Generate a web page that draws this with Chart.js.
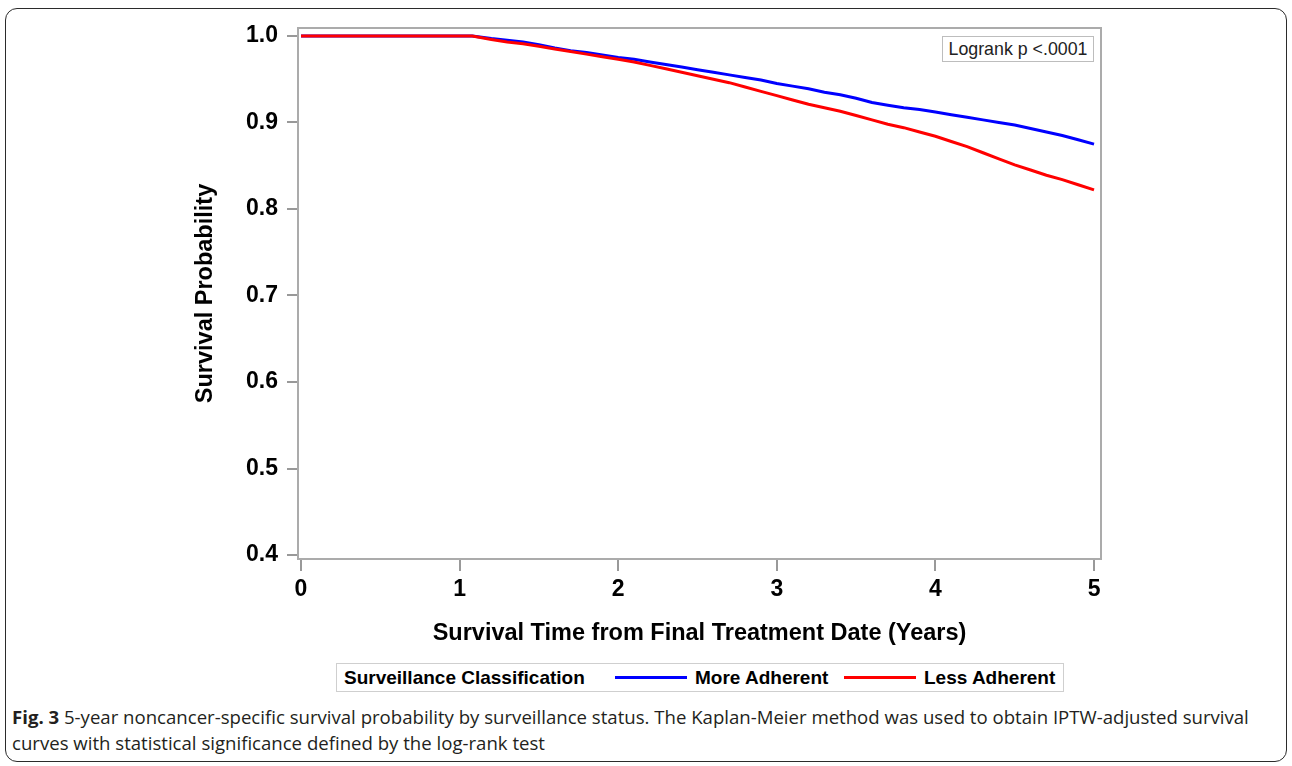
<!DOCTYPE html>
<html><head><meta charset="utf-8">
<script src="https://cdn.jsdelivr.net/npm/chart.js@4.4.1/dist/chart.umd.min.js"></script>
<style>
html,body{margin:0;padding:0;background:#fff;}
body{width:1292px;height:766px;position:relative;overflow:hidden;}
#frame{position:absolute;left:5px;top:8px;width:1282px;height:754px;border:1.5px solid #2b2b2b;border-radius:12px;box-sizing:border-box;}
#chart{position:absolute;left:0;top:0;}
#logrank{position:absolute;left:942px;top:36px;width:152px;height:26px;border:1px solid #bdbdbd;box-sizing:border-box;background:#fff;
  font:17.8px "Liberation Sans",Arial,sans-serif;color:#222;text-align:center;line-height:24px;}
#legend{position:absolute;left:336px;top:663px;width:728px;height:29px;border:1px solid #cfcfcf;box-sizing:border-box;
  font:bold 19px "Liberation Sans",Arial,sans-serif;color:#000;}
#legend span{position:absolute;top:0;line-height:27px;white-space:nowrap;}
#legend i{position:absolute;top:12px;height:3px;width:72px;}
#caption{position:absolute;left:12px;top:704px;font:18.6px "Open Sans",sans-serif;line-height:26px;color:#231f20;white-space:nowrap;}
</style></head>
<body>
<div id="frame"></div>
<canvas id="chart" width="1292" height="660"></canvas>
<div id="logrank">Logrank p &lt;.0001</div>
<div id="legend"></div>
<div id="caption"><b>Fig. 3</b> 5-year noncancer-specific survival probability by surveillance status. The Kaplan-Meier method was used to obtain IPTW-adjusted survival<br>curves with statistical significance defined by the log-rank test</div>
<script>
// ---- data ----
const years = [0, 1.08, 1.2, 1.3, 1.4, 1.5, 1.6, 1.7, 1.8, 1.9, 2.0, 2.1, 2.2, 2.3, 2.4, 2.5, 2.6, 2.7, 2.8, 2.9, 3.0,
  3.1, 3.2, 3.3, 3.4, 3.5, 3.6, 3.7, 3.8, 3.9, 4.0, 4.1, 4.2, 4.3, 4.4, 4.5, 4.6, 4.7, 4.8, 4.9, 5.0];
const moreAdherent = [1.0, 1.0, 0.997, 0.995, 0.993, 0.990, 0.986, 0.983, 0.981, 0.978, 0.975, 0.973, 0.970, 0.967, 0.964,
  0.961, 0.958, 0.955, 0.952, 0.949, 0.945, 0.942, 0.939, 0.935, 0.932, 0.928, 0.923, 0.920, 0.917, 0.915, 0.912,
  0.909, 0.906, 0.903, 0.900, 0.897, 0.893, 0.889, 0.885, 0.880, 0.875];
const lessAdherent = [1.0, 1.0, 0.996, 0.993, 0.991, 0.988, 0.985, 0.982, 0.979, 0.976, 0.973, 0.970, 0.966, 0.962, 0.958,
  0.954, 0.950, 0.946, 0.941, 0.936, 0.931, 0.926, 0.921, 0.917, 0.913, 0.908, 0.903, 0.898, 0.894, 0.889, 0.884,
  0.878, 0.872, 0.865, 0.858, 0.851, 0.845, 0.839, 0.834, 0.828, 0.822];
const seriesNames = ['More Adherent', 'Less Adherent'];
const seriesColors = ['#0000ff', '#ff0000'];
const legendTitle = 'Surveillance Classification';
const xTicks = [0, 1, 2, 3, 4, 5];
const yTicks = [0.4, 0.5, 0.6, 0.7, 0.8, 0.9, 1.0];
const xTitle = 'Survival Time from Final Treatment Date (Years)';
const yTitle = 'Survival Probability';

// ---- legend (HTML) ----
const lg = document.getElementById('legend');
lg.innerHTML =
  '<span style="left:7px">' + legendTitle + '</span>' +
  '<i style="left:278px;background:' + seriesColors[0] + '"></i>' +
  '<span style="left:358px">' + seriesNames[0] + '</span>' +
  '<i style="left:507px;background:' + seriesColors[1] + '"></i>' +
  '<span style="left:587px">' + seriesNames[1] + '</span>';

const toXY = (ys) => years.map((t, i) => ({x: t, y: ys[i]}));
const axisFont = {family: '"Liberation Sans", Arial, sans-serif', weight: 'bold'};

const framePlugin = {
  id: 'frame',
  afterDraw(chart) {
    const {ctx, chartArea: a} = chart;
    ctx.save();
    ctx.strokeStyle = '#ababab';
    ctx.lineWidth = 2;
    ctx.strokeRect(a.left, a.top, a.right - a.left, a.bottom - a.top);
    ctx.restore();
  }
};

new Chart(document.getElementById('chart'), {
  type: 'line',
  data: {
    datasets: [
      {label: seriesNames[1], data: toXY(lessAdherent), borderColor: seriesColors[1], borderWidth: 3, pointRadius: 0, tension: 0, fill: false},
      {label: seriesNames[0], data: toXY(moreAdherent), borderColor: seriesColors[0], borderWidth: 3, pointRadius: 0, tension: 0, fill: false}
    ]
  },
  options: {
    responsive: false,
    animation: false,
    devicePixelRatio: 1,
    layout: {padding: {left: 0, right: 191, top: 28, bottom: 0}},
    plugins: {legend: {display: false}, tooltip: {enabled: false}},
    scales: {
      x: {
        type: 'linear', min: -0.019, max: 5.044,
        afterBuildTicks: s => { s.ticks = xTicks.map(v => ({value: v})); },
        afterFit: s => { s.height = 101; },
        ticks: {font: {...axisFont, size: 23}, color: '#000', padding: 5, callback: v => String(v), maxRotation: 0},
        grid: {drawOnChartArea: false, drawTicks: true, tickLength: 12, color: '#999', lineWidth: 2},
        border: {display: true, color: '#ababab', width: 2},
        title: {display: true, text: xTitle, font: {...axisFont, size: 23.5}, color: '#000', padding: {top: 0, bottom: 12}}
      },
      y: {
        type: 'linear', min: 0.3954, max: 1.0092,
        afterBuildTicks: s => { s.ticks = yTicks.map(v => ({value: v})); },
        afterFit: s => { s.width = 298; },
        ticks: {font: {...axisFont, size: 23}, color: '#000', padding: 9, callback: v => Number(v).toFixed(1)},
        grid: {drawOnChartArea: false, drawTicks: true, tickLength: 11, color: '#999', lineWidth: 2},
        border: {display: true, color: '#ababab', width: 2},
        title: {display: true, text: yTitle, font: {...axisFont, size: 23.5}, color: '#000', padding: {top: 191, bottom: 0}}
      }
    }
  },
  plugins: [framePlugin]
});
</script>
</body></html>
